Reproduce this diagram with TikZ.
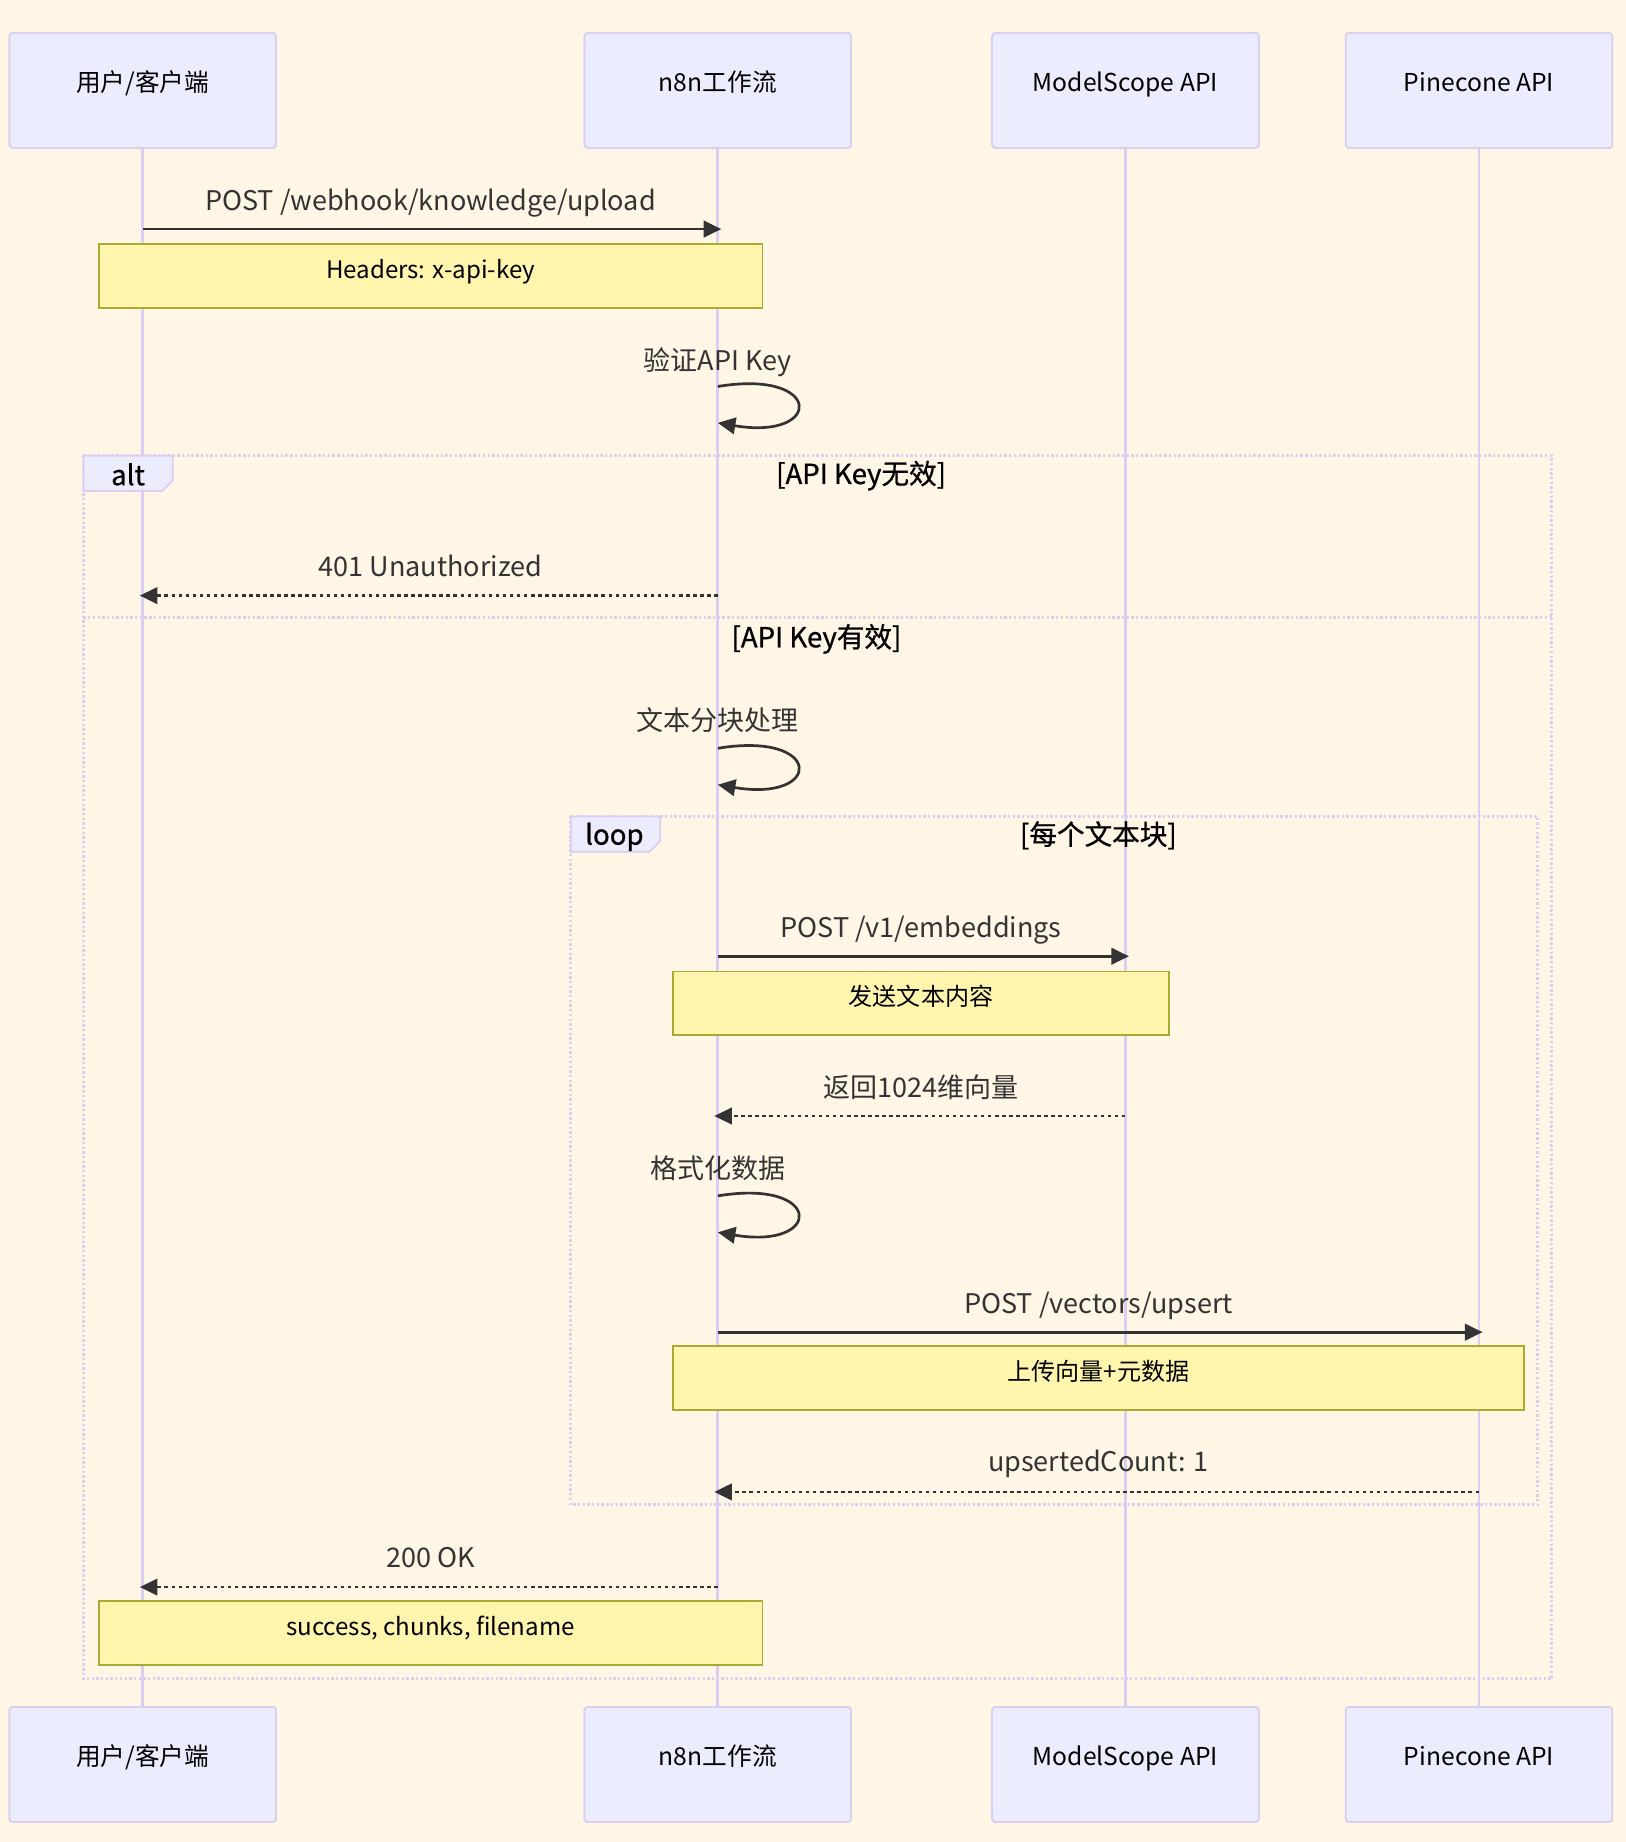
\documentclass[tikz,border=0pt]{standalone}
\usepackage{fontspec}
\setmainfont{Noto Sans CJK SC}
\newfontfamily\labfont[FakeBold=0.8]{Noto Sans CJK SC}
\usetikzlibrary{arrows.meta}
\definecolor{bg}{RGB}{255,246,229}
\definecolor{actfill}{RGB}{236,236,255}
\definecolor{actline}{RGB}{218,206,243}
\definecolor{notefill}{RGB}{255,245,173}
\definecolor{noteline}{RGB}{170,170,51}
\definecolor{msgc}{RGB}{51,51,51}
\begin{document}
\begin{tikzpicture}[x=1pt,y=-1pt,
  actor/.style={draw=actline, fill=actfill, line width=1.5pt, rounded corners=3pt,
    minimum width=227pt, minimum height=98pt, inner sep=0pt},
  acttext/.style={font=\fontsize{21}{25}\selectfont, text=black, anchor=base, inner sep=0pt},
  life/.style={draw=actline, line width=2.2pt},
  notebox/.style={draw=noteline, fill=notefill, line width=1.5pt,
    minimum height=54pt, inner sep=0pt},
  notetext/.style={font=\fontsize{20.5}{24}\selectfont, text=black, anchor=base, inner sep=0pt},
  msgtext/.style={font=\fontsize{23}{27}\selectfont, text=msgc, anchor=base, inner sep=0pt},
  msgline/.style={draw=msgc, line width=2.3pt, -{Triangle[length=15pt,width=14pt]}},
  retline/.style={msgline, dash pattern=on 3pt off 3pt},
  frame/.style={draw=actline, line width=2.6pt, dash pattern=on 2pt off 2pt},
  framelab/.style={draw=actline, fill=actfill, line width=1.5pt},
  frametext/.style={font=\labfont\fontsize{23.5}{27}\selectfont, text=black, anchor=base, inner sep=0pt},
]
\fill[bg] (0,0) rectangle (1384,1568);
\useasboundingbox (0,0) rectangle (1384,1568);

% actor boxes (top and bottom)
\node[actor] (u1) at (121.5,77) {};
\node[actor] (n1) at (611,77) {};
\node[actor] (m1) at (958,77) {};
\node[actor] (p1) at (1259,77) {};
\node[actor] (u2) at (121.5,1502) {};
\node[actor] (n2) at (611,1502) {};
\node[actor] (m2) at (958,1502) {};
\node[actor] (p2) at (1259,1502) {};

% lifelines
\draw[life] (u1.south) -- (u2.north);
\draw[life] (n1.south) -- (n2.north);
\draw[life] (m1.south) -- (m2.north);
\draw[life] (p1.south) -- (p2.north);

% actor boxes on top with texts
\foreach \nm/\tx in {u1/{用户/客户端}, n1/{n8n工作流}, m1/{ModelScope API}, p1/{Pinecone API},
                     u2/{用户/客户端}, n2/{n8n工作流}, m2/{ModelScope API}, p2/{Pinecone API}} {
  \node[actor] at (\nm.center) {};
  \node[acttext] at ([yshift=-0.5pt]\nm.center) {\tx};
}

% alt frame
\draw[frame] (71,388) rectangle (1321,1429);
\draw[frame] (71,526) -- (1321,526);
\draw[framelab] (71,388) -- (147,388) -- (147,409) -- (138,418) -- (71,418) -- cycle;
\node[frametext] (altl) at (109,413) {alt};
\node[frametext] (altc1) at (733,412) {[API Key无效]};
\node[frametext] (altc2) at (695,551) {[API Key有效]};

% loop frame
\draw[frame] (486,695) rectangle (1309,1281);
\draw[framelab] (486,695) -- (562,695) -- (562,716) -- (553,725) -- (486,725) -- cycle;
\node[frametext] (loopl) at (523,719) {loop};
\node[frametext] (loopc) at (935,719) {[每个文本块]};

% coordinates on lifelines
\coordinate (a1) at (122,195);  \coordinate (a2) at (614,195);
\coordinate (b1) at (611,329);  \coordinate (b2) at (611,360);
\coordinate (c1) at (611,507);  \coordinate (c2) at (119,507);
\coordinate (d1) at (611,637);  \coordinate (d2) at (611,668);
\coordinate (e1) at (611,814);  \coordinate (e2) at (961,814);
\coordinate (f1) at (958,950);  \coordinate (f2) at (608,950);
\coordinate (g1) at (611,1018); \coordinate (g2) at (611,1049);
\coordinate (h1) at (611,1134); \coordinate (h2) at (1262,1134);
\coordinate (i1) at (1259,1270);\coordinate (i2) at (608,1270);
\coordinate (j1) at (611,1351); \coordinate (j2) at (119,1351);

% messages
\node[msgtext] (t1) at (366.5,179) {POST /webhook/knowledge/upload};
\draw[msgline] (a1) -- (a2);
\node[notebox, minimum width=565pt] (nt1) at (366.5,235) {};
\node[notetext] at (366.5,237) {Headers: x-api-key};

\node[msgtext] (t2) at (611,315) {验证API Key};
\draw[msgline] (b1) .. controls +(90,-15) and +(90,15) .. (b2);

\node[msgtext] (t3) at (366.5,491) {401 Unauthorized};
\draw[retline] (c1) -- (c2);

\node[msgtext] (t4) at (611,622) {文本分块处理};
\draw[msgline] (d1) .. controls +(90,-15) and +(90,15) .. (d2);

\node[msgtext] (t5) at (784,798) {POST /v1/embeddings};
\draw[msgline] (e1) -- (e2);
\node[notebox, minimum width=422pt] (nt2) at (784,854) {};
\node[notetext] at (784,856) {发送文本内容};

\node[msgtext] (t6) at (784,934) {返回1024维向量};
\draw[retline] (f1) -- (f2);

\node[msgtext] (t7) at (611,1003) {格式化数据};
\draw[msgline] (g1) .. controls +(90,-15) and +(90,15) .. (g2);

\node[msgtext] (t8) at (935,1118) {POST /vectors/upsert};
\draw[msgline] (h1) -- (h2);
\node[notebox, minimum width=724pt] (nt3) at (935,1173) {};
\node[notetext] at (935,1175) {上传向量+元数据};

\node[msgtext] (t9) at (935,1253) {upsertedCount: 1};
\draw[retline] (i1) -- (i2);

\node[msgtext] (t10) at (366.5,1334) {200 OK};
\draw[retline] (j1) -- (j2);
\node[notebox, minimum width=565pt] (nt4) at (366.5,1390) {};
\node[notetext] at (366.5,1392) {success, chunks, filename};
\end{tikzpicture}
\end{document}
